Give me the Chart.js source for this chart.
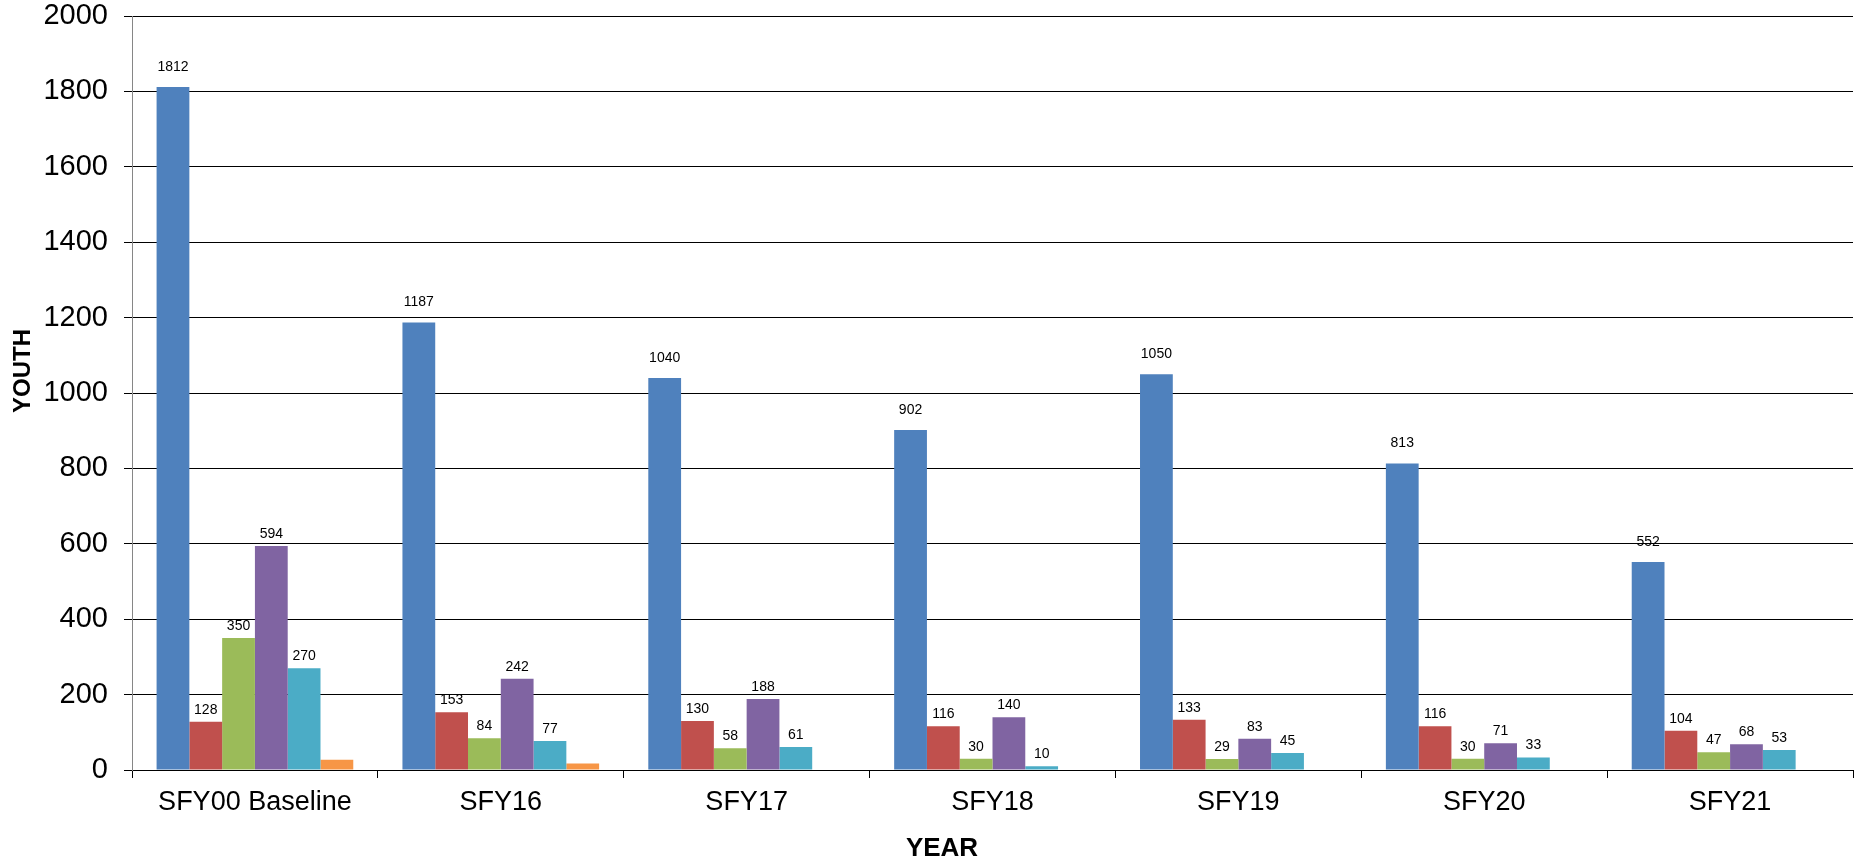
<!DOCTYPE html>
<html lang="en">
<head>
    <meta charset="UTF-8">
    <title>Youth by Year</title>
    <script src="https://cdn.jsdelivr.net/npm/chart.js"></script>
    <style>
        html, body { margin: 0; padding: 0; background: #fff; }
        #wrap { width: 1855px; height: 865px; }
    </style>
</head>
<body>
    <div id="wrap"><canvas id="chart" width="1855" height="865"></canvas></div>

    <script>
        // categories and series
        const years = ['SFY00 Baseline', 'SFY16', 'SFY17', 'SFY18', 'SFY19', 'SFY20', 'SFY21'];
        const series1 = [1812, 1187, 1040, 902, 1050, 813, 552];
        const series2 = [128, 153, 130, 116, 133, 116, 104];
        const series3 = [350, 84, 58, 30, 29, 30, 47];
        const series4 = [594, 242, 188, 140, 83, 71, 68];
        const series5 = [270, 77, 61, 10, 45, 33, 53];
        const series6 = [27, 17, 0, 0, 0, 0, 0];
        const yTicks = [0, 200, 400, 600, 800, 1000, 1200, 1400, 1600, 1800, 2000];

        const colors = ['#4F81BD', '#C0504D', '#9BBB59', '#8064A2', '#4BACC6', '#F79646'];
        const allSeries = [series1, series2, series3, series4, series5, series6];
        const FONT = '"Liberation Sans", Arial, sans-serif';

        // value labels above the bars (last series has none)
        const barLabels = {
            id: 'barLabels',
            afterDatasetsDraw(chart) {
                const ctx = chart.ctx;
                ctx.save();
                ctx.font = '14px ' + FONT;
                ctx.fillStyle = '#000';
                ctx.textAlign = 'center';
                ctx.textBaseline = 'middle';
                chart.data.datasets.forEach((ds, i) => {
                    if (i === 5) return;
                    const meta = chart.getDatasetMeta(i);
                    meta.data.forEach((bar, j) => {
                        const off = i === 0 ? 20 : 12;
                        ctx.fillText(ds.data[j], bar.x, bar.y - off);
                    });
                });
                ctx.restore();
            }
        };

        // axis titles, placed like the original (slightly off centre)
        const axisTitles = {
            id: 'axisTitles',
            afterDraw(chart) {
                const ctx = chart.ctx;
                ctx.save();
                ctx.fillStyle = '#000';
                ctx.textAlign = 'center';
                ctx.textBaseline = 'middle';
                ctx.font = 'bold 26px ' + FONT;
                ctx.fillText('YEAR', 942, 849);
                ctx.translate(23, 371);
                ctx.rotate(-Math.PI / 2);
                ctx.font = 'bold 24px ' + FONT;
                ctx.fillText('YOUTH', 0, 0);
                ctx.restore();
            }
        };

        new Chart(document.getElementById('chart'), {
            type: 'bar',
            data: {
                labels: years,
                datasets: allSeries.map((d, i) => ({
                    label: 'Series ' + (i + 1),
                    data: d,
                    backgroundColor: colors[i],
                    borderWidth: 0,
                    categoryPercentage: 0.8,
                    barPercentage: 1.0
                }))
            },
            options: {
                responsive: false,
                animation: false,
                layout: { padding: { top: 16, right: 2, left: 0, bottom: 0 } },
                plugins: {
                    legend: { display: false },
                    tooltip: { enabled: false }
                },
                scales: {
                    x: {
                        grid: {
                            offset: true,
                            drawOnChartArea: false,
                            drawTicks: true,
                            tickLength: 8,
                            color: '#000'
                        },
                        border: { color: '#000', width: 1 },
                        ticks: {
                            color: '#000',
                            padding: 8,
                            font: { family: FONT, size: 27 }
                        },
                        afterFit(scale) {
                            scale.height = 95;
                            scale.paddingLeft = 0;
                            scale.paddingRight = 0;
                        }
                    },
                    y: {
                        min: 0,
                        max: 2000,
                        afterBuildTicks(scale) { scale.ticks = yTicks.map(v => ({ value: v })); },
                        grid: {
                            color: '#000',
                            lineWidth: 1,
                            tickLength: 8
                        },
                        border: { color: '#868686', width: 1 },
                        ticks: {
                            color: '#000',
                            padding: 16,
                            callback: v => String(v),
                            font: { family: FONT, size: 29 }
                        },
                        afterFit(scale) {
                            scale.width = 132;
                            scale.paddingTop = 0;
                            scale.paddingBottom = 0;
                        }
                    }
                }
            },
            plugins: [barLabels, axisTitles]
        });
    </script>
</body>
</html>
